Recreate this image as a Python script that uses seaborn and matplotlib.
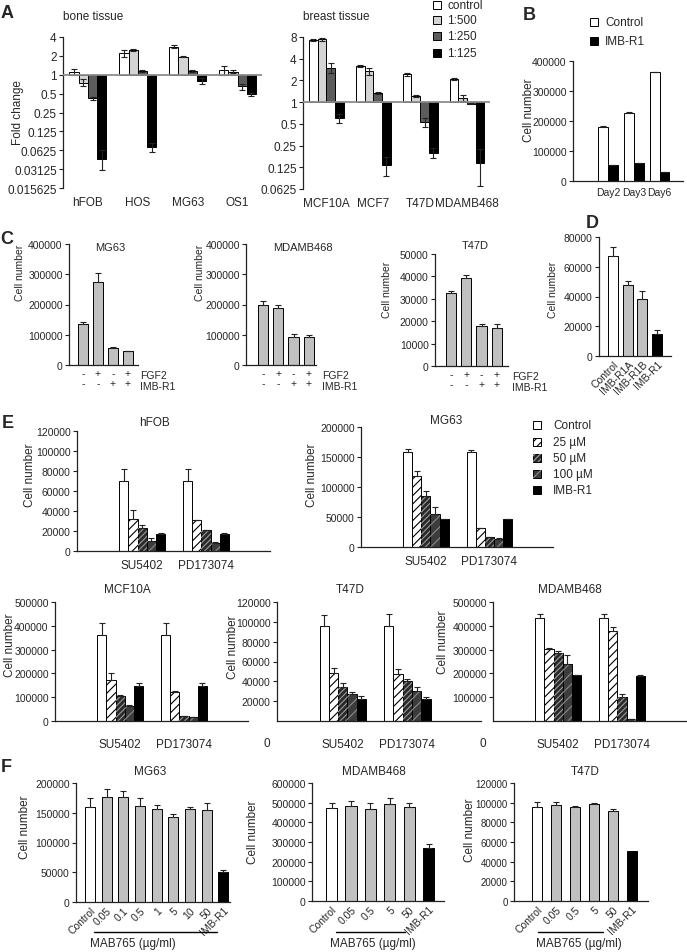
import numpy as np
import pandas as pd
import matplotlib
matplotlib.use("Agg")
import matplotlib.pyplot as plt
import seaborn as sns
from matplotlib.patches import Rectangle
from matplotlib.lines import Line2D

W, H = 687, 953

# ---------------- data ----------------
# A: fold change, log2 axis
dilutions = ["control", "1:500", "1:250", "1:125"]
bone_lines = ["hFOB", "HOS", "MG63", "OS1"]
bone_fold = [[1.12, 2.2, 2.8, 1.2],
             [0.75, 2.5, 1.95, 1.12],
             [0.42, 1.15, 1.15, 0.65],
             [0.046, 0.07, 0.8, 0.49]]
bone_sd = [[0.12, 0.3, 0.15, 0.2],
           [0.09, 0.08, 0.05, 0.05],
           [0.02, 0.06, 0.04, 0.07],
           [0.016, 0.012, 0.08, 0.03]]
breast_lines = ["MCF10A", "MCF7", "T47D", "MDAMB468"]
breast_fold = [[7.3, 3.2, 2.45, 2.1],
               [7.5, 2.7, 1.22, 1.15],
               [3.0, 1.35, 0.53, 0.95],
               [0.6, 0.135, 0.2, 0.145]]
breast_sd = [[0.2, 0.1, 0.12, 0.06],
             [0.35, 0.3, 0.03, 0.12],
             [0.45, 0.04, 0.08, 0.02],
             [0.08, 0.04, 0.03, 0.076]]
bone_ticks = ["4", "2", "1", "0.5", "0.25", "0.125", "0.0625", "0.03125", "0.015625"]
breast_ticks = ["8", "4", "2", "1", "0.5", "0.25", "0.125", "0.0625"]

# B
days = ["Day2", "Day3", "Day6"]
b_groups = ["Control", "IMB-R1"]
b_cells = [[180000, 226000, 362000], [53000, 60000, 30000]]
b_sd = [[4000, 5000, 2000], [1500, 1500, 1500]]

# C
c_fgf2 = ["-", "+", "-", "+"]
c_imb = ["-", "-", "+", "+"]
c_mg63 = [135000, 275000, 55000, 45000]
c_mg63_sd = [6000, 30000, 3000, 2000]
c_mdamb = [198000, 190000, 93000, 91000]
c_mdamb_sd = [15000, 10000, 11000, 8000]
c_t47d = [32500, 39500, 17700, 17000]
c_t47d_sd = [1200, 1000, 1200, 1800]

# D
d_labels = ["Control", "IMB-R1A", "IMB-R1B", "IMB-R1"]
d_cells = [67000, 47500, 38500, 14500]
d_sd = [6500, 3000, 5500, 3300]

# E  (rows = treatment, columns = drug)
e_drugs = ["SU5402", "PD173074"]
e_treat = ["Control", "25 µM", "50 µM", "100 µM", "IMB-R1"]
e_hfob = [[70000, 70000], [32000, 31000], [23000, 21000], [10000, 8500], [17000, 17000]]
e_hfob_sd = [[12000, 12000], [9000, 500], [3000, 500], [3500, 1000], [800, 800]]
e_mg63 = [[159000, 159000], [118000, 32000], [85000, 16000], [55000, 14000], [46000, 46000]]
e_mg63_sd = [[4000, 2000], [8000, 500], [9000, 500], [11000, 500], [500, 500]]
e_mcf10a = [[360000, 360000], [172000, 120000], [105000, 22000], [65000, 17000], [146000, 146000]]
e_mcf10a_sd = [[53000, 53000], [30000, 6000], [3000, 500], [1000, 500], [13000, 13000]]
e_t47d = [[96000, 96000], [48000, 47000], [34000, 40000], [27000, 30000], [22500, 22500]]
e_t47d_sd = [[11000, 12000], [5000, 5000], [4500, 2000], [2600, 4000], [2500, 2000]]
e_mdamb = [[432000, 432000], [303000, 380000], [285000, 102000], [240000, 10000], [192000, 190000]]
e_mdamb_sd = [[17000, 17000], [3000, 14000], [10000, 12000], [36000, 500], [1500, 3000]]

# F
f_mg63_labels = ["Control", "0.05", "0.1", "0.5", "1", "5", "10", "50", "IMB-R1"]
f_mg63 = [159000, 177000, 176000, 161000, 157000, 143000, 156000, 154000, 50000]
f_mg63_sd = [15000, 13000, 10000, 14000, 6000, 5000, 4500, 13000, 3500]
f_labels = ["Control", "0.05", "0.5", "5", "50", "IMB-R1"]
f_mdamb = [472000, 483000, 467000, 492000, 478000, 267000]
f_mdamb_sd = [28000, 25000, 30000, 30000, 22000, 25000]
f_t47d = [95500, 97500, 95500, 99000, 91500, 51000]
f_t47d_sd = [5500, 3500, 1500, 600, 2300, 0]

# ---------------- style ----------------
sns.set_style("ticks")
plt.rcParams["font.family"] = ["Liberation Sans", "DejaVu Sans"]
plt.rcParams["font.size"] = 7.5
plt.rcParams["hatch.linewidth"] = 0.8

GRAY = "#c0c0c0"
a_colors = ["white", "#d4d4d4", "#5c5c5c", "black"]
e_colors = ["white", "white", "#2a2a2a", "#3c3c3c", "black"]
e_hatch = {"25 µM": "////", "50 µM": "//////", "100 µM": "///"}
e_hcol = {"25 µM": "black", "50 µM": "#9a9a9a", "100 µM": "#8a8a8a"}

fig = plt.figure(figsize=(W / 100, H / 100), dpi=100)


def px_axes(l, t, r, b):
    return fig.add_axes([l / W, 1 - b / H, (r - l) / W, (b - t) / H])


def ftext(x, y, s, **kw):
    kw.setdefault("ha", "center")
    kw.setdefault("va", "center")
    fig.text(x / W, 1 - y / H, s, **kw)


def fbox(x, y, face, hatch=None, hcolor=None, size=8):
    xy = (x / W, 1 - (y + size / 2) / H)
    fig.add_artist(Rectangle(xy, size / W, size / H, transform=fig.transFigure,
                             facecolor=face, edgecolor="black", lw=0.7))
    if hatch:
        fig.add_artist(Rectangle(xy, size / W, size / H, transform=fig.transFigure,
                                 facecolor="none", edgecolor=hcolor, lw=0, hatch=hatch))


def hline(x1, x2, y):
    fig.add_artist(Line2D([x1 / W, x2 / W], [1 - y / H, 1 - y / H], color="black", lw=1))


def grouped_df(cats, groups, vals, sd):
    rows = []
    for gi, g in enumerate(groups):
        for ci, c in enumerate(cats):
            rows.append(dict(cat=c, grp=g, y=vals[gi][ci], lo=0, hi=sd[gi][ci]))
    return pd.DataFrame(rows)


def fold_df(cats, vals, sd):
    rows = []
    for gi, g in enumerate(dilutions):
        for ci, c in enumerate(cats):
            v, s = vals[gi][ci], sd[gi][ci]
            rows.append(dict(cat=c, grp=g, y=np.log2(v),
                             lo=np.log2(v) - np.log2(v - s), hi=np.log2(v + s) - np.log2(v)))
    return pd.DataFrame(rows)


def single_df(cats, vals, sd):
    return pd.DataFrame(dict(cat=cats, grp=cats, y=vals, lo=0, hi=sd))


def draw(ax, df, order, hue_order, colors, width, hatches=None, hcolors=None):
    sns.barplot(data=df, x="cat", y="y", hue="grp", order=order, hue_order=hue_order,
                palette=dict(zip(hue_order, colors)), width=width, saturation=1,
                edgecolor="black", linewidth=0.7, errorbar=None, legend=False, ax=ax)
    keyed = {(r["cat"], r["grp"]): r for r in df.to_dict("records")}
    pairs = [(c, g) for g in hue_order for c in order if (c, g) in keyed]
    for p, key in zip(list(ax.patches), pairs):
        r = keyed[key]
        xc = p.get_x() + p.get_width() / 2
        if hatches and key[1] in hatches:
            ax.bar(p.get_x(), p.get_height(), width=p.get_width(), bottom=p.get_y(),
                   align="edge", facecolor="none", edgecolor=hcolors[key[1]],
                   linewidth=0, hatch=hatches[key[1]])
        if r["lo"] > 0 or r["hi"] > 0:
            ax.errorbar(xc, r["y"], yerr=[[r["lo"]], [r["hi"]]], fmt="none",
                        ecolor="#222", elinewidth=0.8, capsize=2.3, capthick=0.8)


def style(ax, xlim, ylim, yticks, ylabels=None, fs=7.5, xpad=3):
    ax.set_xlim(*xlim)
    ax.set_ylim(*ylim)
    ax.set_yticks(yticks)
    ax.set_yticklabels(ylabels if ylabels is not None else [str(int(t)) for t in yticks])
    ax.set_xlabel("")
    ax.set_ylabel("")
    sns.despine(ax=ax)
    ax.tick_params(axis="y", length=3, width=0.8, pad=1.5, labelsize=fs, color="#222")
    ax.tick_params(axis="x", length=0, labelsize=fs, pad=xpad)
    for s in ax.spines.values():
        s.set_color("#222")
        s.set_linewidth(0.9)


# ---------------- A ----------------
for (l, r, b), cats, vals, sd, ticks, title in [
        ((63, 262, 189), bone_lines, bone_fold, bone_sd, bone_ticks, "bone tissue"),
        ((303, 490, 190), breast_lines, breast_fold, breast_sd, breast_ticks, "breast tissue")]:
    ax = px_axes(l, 38, r, b)
    draw(ax, fold_df(cats, vals, sd), cats, dilutions, a_colors, 0.74)
    tpos = [np.log2(float(t)) for t in ticks]
    style(ax, (-0.5, 3.49), (min(tpos), max(tpos)), tpos, ticks, fs=8.5, xpad=6)
    ax.spines["bottom"].set_visible(False)
    ax.axhline(0, color="#8c8c8c", lw=1.3, zorder=3)
    ftext(l, 17, title, ha="left", fontsize=8.5)
ftext(18, 113, "Fold change", rotation=90, fontsize=8.5)
for i, (lab, col) in enumerate(zip(dilutions, a_colors)):
    y = [6, 21, 37, 54][i]
    fbox(433, y, col)
    ftext(447, y, lab, ha="left", fontsize=8.5)

# ---------------- B ----------------
ax = px_axes(573, 62, 683, 182)
draw(ax, grouped_df(days, b_groups, b_cells, b_sd), days, b_groups, ["white", "black"], 0.75)
style(ax, (-1.35, 2.9), (0, 400000), [0, 100000, 200000, 300000, 400000], xpad=4)
ftext(529, 110, "Cell number", rotation=90, fontsize=8.5)
for y, lab, col in [(23, "Control", "white"), (42, "IMB-R1", "black")]:
    fbox(590, y, col)
    ftext(605, y, lab, ha="left", fontsize=8.5)

# ---------------- C ----------------
c_pos = ["1", "2", "3", "4"]
for (l, t, r, b), vals, sd, xlim, ylim, yt, title, tx, ty, lx, ylab in [
        ((69, 245, 138, 366), c_mg63, c_mg63_sd, (-0.93, 3.67), (0, 400000),
         [0, 100000, 200000, 300000, 400000], "MG63", 110, 248, 140, (20, 273)),
        ((246, 245, 316, 366), c_mdamb, c_mdamb_sd, (-1.1, 3.46), (0, 400000),
         [0, 100000, 200000, 300000, 400000], "MDAMB468", 303, 248, 322, (200, 273)),
        ((435, 255, 508, 367), c_t47d, c_t47d_sd, (-1.05, 3.73), (0, 50000),
         [0, 10000, 20000, 30000, 40000, 50000], "T47D", 475, 246, 512, (387, 290))]:
    ax = px_axes(l, t, r, b)
    draw(ax, single_df(c_pos, vals, sd), c_pos, c_pos, [GRAY] * 4, 0.67)
    style(ax, xlim, ylim, yt, xpad=2)
    ax.set_xticks(range(4))
    ax.set_xticklabels([f"{a}\n{b_}" for a, b_ in zip(c_fgf2, c_imb)], linespacing=1.05)
    ftext(tx, ty, title, fontsize=8)
    ftext(lx, b + 10, "FGF2", ha="left")
    ftext(lx, b + 21, "IMB-R1", ha="left")
    ftext(ylab[0], ylab[1], "Cell number", rotation=90, fontsize=7.5)

# ---------------- D ----------------
ax = px_axes(599, 238, 671, 357)
draw(ax, single_df(d_labels, d_cells, d_sd), d_labels, d_labels,
     ["white", GRAY, GRAY, "black"], 0.69)
style(ax, (-1.0, 3.97), (0, 80000), [0, 20000, 40000, 60000, 80000], xpad=2)
plt.setp(ax.get_xticklabels(), rotation=45, ha="right", rotation_mode="anchor")
ftext(553, 290, "Cell number", rotation=90, fontsize=7.5)

# ---------------- E ----------------
for (l, t, r, b), vals, sd, ylim, yt, title, tpos, ylab, xpad, zero in [
        ((77, 432, 270, 552), e_hfob, e_hfob_sd, (0, 120000),
         [0, 20000, 40000, 60000, 80000, 100000, 120000], "hFOB", (155, 423), (30, 475), 6, None),
        ((361, 428, 553, 548), e_mg63, e_mg63_sd, (0, 200000),
         [0, 50000, 100000, 150000, 200000], "MG63", (446, 421), (312, 475), 6, None),
        ((55, 603, 248, 722), e_mcf10a, e_mcf10a_sd, (0, 500000),
         [0, 100000, 200000, 300000, 400000, 500000], "MCF10A", (127, 590), (10, 645), 12.5, None),
        ((277, 603, 481, 722), e_t47d, e_t47d_sd, (0, 120000),
         [20000, 40000, 60000, 80000, 100000, 120000], "T47D", (350, 590), (233, 647), 12.5, (267, 744)),
        ((493, 603, 686, 722), e_mdamb, e_mdamb_sd, (0, 500000),
         [100000, 200000, 300000, 400000, 500000], "MDAMB468", (570, 590), (443, 642), 12.5, (483, 744))]:
    ax = px_axes(l, t, r, b)
    draw(ax, grouped_df(e_drugs, e_treat, vals, sd), e_drugs, e_treat, e_colors, 0.72,
         hatches=e_hatch, hcolors=e_hcol)
    xr = 2.14 if title == "T47D" else 2.0
    style(ax, (-1.02, xr), ylim, yt, xpad=xpad, fs=7.5)
    ax.tick_params(axis="x", labelsize=8.5)
    ftext(*tpos, title, fontsize=8.5)
    ftext(*ylab, "Cell number", rotation=90, fontsize=8.5)
    if zero:
        ftext(*zero, "0", fontsize=8.5)
for i, (lab, col) in enumerate(zip(e_treat, e_colors)):
    y = [426, 443, 459, 475, 491][i]
    fbox(533, y, col, e_hatch.get(lab), e_hcol.get(lab))
    ftext(553, y, lab, ha="left", fontsize=8.5)

# ---------------- F ----------------
for (l, t, r, b), labels, vals, sd, xlim, width, ylim, yt, title, tpos, ylab, line, mab, fs in [
        ((76, 784, 230, 903), f_mg63_labels, f_mg63, f_mg63_sd, (-0.84, 8.4), 0.6, (0, 200000),
         [0, 50000, 100000, 150000, 200000], "MG63", (150, 772), (25, 827), (94, 217), 133, 7.5),
        ((312, 784, 444, 902), f_labels, f_mdamb, f_mdamb_sd, (-1.01, 5.79), 0.57, (0, 600000),
         [0, 100000, 200000, 300000, 400000, 500000, 600000], "MDAMB468", (374, 772), (253, 832),
         (336, 405), 373, 7.5),
        ((514, 784, 648, 902), f_labels, f_t47d, f_t47d_sd, (-1.22, 5.87), 0.53, (0, 120000),
         [0, 20000, 40000, 60000, 80000, 100000, 120000], "T47D", (585, 772), (470, 830),
         (538, 603), 579, 7)]:
    ax = px_axes(l, t, r, b)
    cols = ["white"] + [GRAY] * (len(labels) - 2) + ["black"]
    draw(ax, single_df(labels, vals, sd), labels, labels, cols, width)
    style(ax, xlim, ylim, yt, xpad=2, fs=fs)
    ax.tick_params(axis="x", labelsize=7.5)
    plt.setp(ax.get_xticklabels(), rotation=45, ha="right", rotation_mode="anchor")
    ftext(*tpos, title, fontsize=8.5)
    ftext(*ylab, "Cell number", rotation=90, fontsize=8.5)
    hline(line[0], line[1], 933)
    ftext(mab, 944, "MAB765 (µg/ml)", fontsize=8.5)

# panel letters
for lab, x, y in [("A", 7, 13), ("B", 529, 15), ("C", 7, 240), ("D", 592, 224),
                  ("E", 8, 424), ("F", 6, 768)]:
    ftext(x, y, lab, fontsize=13, fontweight="bold")

fig.savefig("out.png", dpi=100)
